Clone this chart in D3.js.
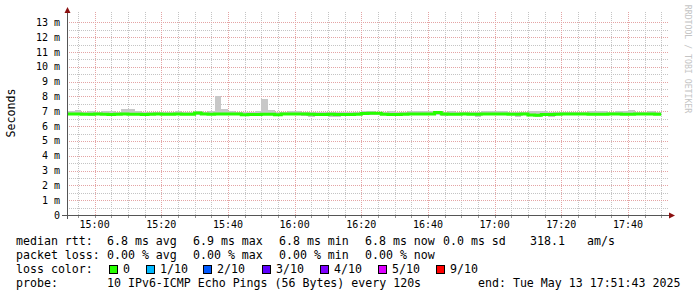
<!DOCTYPE html>
<html lang="en">
<head>
<meta charset="UTF-8">
<title>SmokePing median rtt</title>
<style>
  body { margin: 0; background: #fff; }
  svg { display: block; font-family: "DejaVu Sans Mono", monospace; }
</style>
</head>
<body>
<script src="https://d3js.org/d3.v7.min.js"></script>
<script>
const width = 697, height = 297;
const plot = {left: 67, right: 667, top: 15, bottom: 215};

// time window of the graph and the 120s bins (bin i ends at firstBinEnd + i*2min)
const graphStart = new Date(2025, 4, 13, 14, 51, 43);
const graphEnd = new Date(2025, 4, 13, 17, 51, 43);
const firstBinEnd = new Date(2025, 4, 13, 14, 52, 0);

// median rtt in ms, one per bin
const median = [
  6.81,
  6.81, 6.81, 6.80, 6.80, 6.81, 6.80, 6.78, 6.80, 6.81, 6.80,
  6.80, 6.79, 6.80, 6.81, 6.80, 6.80, 6.81, 6.80, 6.80, 6.88,
  6.81, 6.80, 6.81, 6.82, 6.82, 6.81, 6.77, 6.79, 6.79, 6.80,
  6.80, 6.77, 6.81, 6.82, 6.82, 6.81, 6.80, 6.79, 6.79, 6.80,
  6.79, 6.79, 6.79, 6.80, 6.85, 6.86, 6.86, 6.80, 6.79, 6.79,
  6.80, 6.81, 6.82, 6.82, 6.81, 6.92, 6.81, 6.80, 6.80, 6.81,
  6.80, 6.80, 6.81, 6.81, 6.81, 6.81, 6.80, 6.80, 6.81, 6.75,
  6.74, 6.78, 6.79, 6.80, 6.81, 6.81, 6.81, 6.81, 6.80, 6.80,
  6.80, 6.81, 6.81, 6.80, 6.80, 6.81, 6.81, 6.81, 6.80
];
// highest ping of each bin (smoke top)
const rttMax = [
  7.02,
  7.02, 7.08, 6.98, 7.02, 6.95, 7.00, 7.00, 6.95, 7.15, 7.15,
  7.00, 6.95, 6.98, 6.95, 6.98, 6.95, 7.00, 6.95, 6.98, 7.00,
  6.98, 7.00, 8.05, 7.15, 7.02, 6.98, 6.95, 6.98, 7.02, 7.82,
  7.08, 6.98, 6.95, 7.02, 7.02, 6.98, 6.95, 6.98, 6.95, 6.98,
  6.95, 6.95, 6.95, 6.98, 7.02, 7.02, 6.98, 6.95, 7.00, 6.98,
  6.95, 7.00, 7.02, 7.00, 7.02, 7.02, 6.98, 7.00, 6.98, 6.95,
  6.95, 6.98, 7.00, 7.00, 7.00, 7.00, 6.95, 6.98, 6.98, 7.02,
  7.02, 7.02, 6.98, 6.95, 6.98, 6.95, 6.98, 6.95, 7.00, 7.02,
  7.00, 6.98, 7.02, 7.02, 7.08, 6.98, 6.95, 7.00, 6.98
];
// lowest ping of each bin (smoke bottom)
const rttMin = [
  6.72,
  6.72, 6.72, 6.73, 6.70, 6.72, 6.72, 6.70, 6.72, 6.72, 6.72,
  6.73, 6.70, 6.72, 6.72, 6.73, 6.72, 6.72, 6.73, 6.72, 6.74,
  6.72, 6.72, 6.72, 6.72, 6.73, 6.72, 6.65, 6.70, 6.72, 6.72,
  6.72, 6.66, 6.72, 6.73, 6.72, 6.70, 6.60, 6.72, 6.72, 6.62,
  6.62, 6.72, 6.72, 6.72, 6.74, 6.74, 6.74, 6.72, 6.70, 6.66,
  6.72, 6.72, 6.73, 6.72, 6.72, 6.74, 6.65, 6.72, 6.72, 6.72,
  6.72, 6.64, 6.72, 6.72, 6.73, 6.72, 6.72, 6.60, 6.72, 6.66,
  6.60, 6.68, 6.60, 6.72, 6.72, 6.72, 6.73, 6.72, 6.72, 6.72,
  6.72, 6.72, 6.73, 6.72, 6.72, 6.72, 6.72, 6.73, 6.72
];

const yTicks = [1, 2, 3, 4, 5, 6, 7, 8, 9, 10, 11, 12, 13];
const yMax = 13.5;

const lossLabels = ["0", "1/10", "2/10", "3/10", "4/10", "5/10", "9/10"];
const lossColors = ["#26ff00", "#00b8ff", "#0059ff", "#5e00ff", "#7e00ff", "#dd00ff", "#ff0000"];

const rttStats = ["6.8 ms avg", "6.9 ms max", "6.8 ms min", "6.8 ms now", "0.0 ms sd", "318.1", "am/s"];
const lossStats = ["0.00 % avg", "0.00 % max", "0.00 % min", "0.00 % now"];
const probeText = "10 IPv6-ICMP Echo Pings (56 Bytes) every 120s";
const endText = "end: Tue May 13 17:51:43 2025";

const x = d3.scaleTime().domain([graphStart, graphEnd]).range([plot.left, plot.right]);
const y = d3.scaleLinear().domain([0, yMax]).range([plot.bottom, plot.top]);

const bins = median.map((m, i) => {
    const end = d3.timeMinute.offset(firstBinEnd, 2 * i);
    const start = d3.timeMinute.offset(end, -2);
    return {start: start < graphStart ? graphStart : start, end, m, lo: rttMin[i], hi: rttMax[i]};
});

const svg = d3.select("body")
    .append("svg")
    .attr("width", width)
    .attr("height", height)
    .attr("viewBox", [0, 0, width, height]);

svg.append("rect").attr("width", width).attr("height", height).attr("fill", "#fff");

// grid
const grid = svg.append("g").attr("shape-rendering", "crispEdges").attr("stroke-dasharray", "1,1");
const halfSteps = d3.range(1, 27).map(d => d / 2);
grid.selectAll(".hmin").data(halfSteps.filter(v => v % 1 !== 0)).join("line")
    .attr("x1", plot.left).attr("x2", plot.right + 2)
    .attr("y1", d => Math.round(y(d)) + 0.5).attr("y2", d => Math.round(y(d)) + 0.5)
    .attr("stroke", "#c4c4c4");
grid.selectAll(".vmin").data(d3.timeMinute.every(5).range(graphStart, graphEnd).filter(t => t.getMinutes() % 20 !== 0)).join("line")
    .attr("x1", d => Math.round(x(d)) + 0.5).attr("x2", d => Math.round(x(d)) + 0.5)
    .attr("y1", plot.top - 3).attr("y2", plot.bottom)
    .attr("stroke", "#c4c4c4");
grid.selectAll(".hmaj").data(yTicks).join("line")
    .attr("x1", plot.left).attr("x2", plot.right + 2)
    .attr("y1", d => Math.round(y(d)) + 0.5).attr("y2", d => Math.round(y(d)) + 0.5)
    .attr("stroke", "#e4a4a4");
const majorTimes = d3.timeMinute.every(20).range(graphStart, graphEnd);
grid.selectAll(".vmaj").data(majorTimes).join("line")
    .attr("x1", d => Math.round(x(d)) + 0.5).attr("x2", d => Math.round(x(d)) + 0.5)
    .attr("y1", plot.top - 3).attr("y2", plot.bottom)
    .attr("stroke", "#e4a4a4");

// smoke
svg.append("g").attr("shape-rendering", "crispEdges")
    .selectAll("rect").data(bins).join("rect")
    .attr("x", d => x(d.start)).attr("width", d => x(d.end) - x(d.start))
    .attr("y", d => y(d.hi)).attr("height", d => y(d.lo) - y(d.hi))
    .attr("fill", "#c8c8c8");

// median line (step shaped)
const pts = [];
bins.forEach(b => { pts.push([x(b.start), y(b.m)]); pts.push([x(b.end), y(b.m)]); });
svg.append("path")
    .attr("d", d3.line()(pts))
    .attr("fill", "none")
    .attr("stroke", lossColors[0])
    .attr("stroke-width", 3);

// axes
const axis = svg.append("g").attr("shape-rendering", "crispEdges");
axis.append("line").attr("x1", plot.left + 0.5).attr("x2", plot.left + 0.5)
    .attr("y1", plot.bottom + 4).attr("y2", 12).attr("stroke", "#555");
axis.append("line").attr("x1", plot.left - 5).attr("x2", plot.right + 3)
    .attr("y1", plot.bottom + 0.5).attr("y2", plot.bottom + 0.5).attr("stroke", "#555");
axis.selectAll(".xt").data(d3.timeMinute.every(5).range(graphStart, graphEnd)).join("line")
    .attr("x1", d => Math.round(x(d)) + 0.5).attr("x2", d => Math.round(x(d)) + 0.5)
    .attr("y1", plot.bottom + 1).attr("y2", plot.bottom + 3)
    .attr("stroke", "#999");
svg.append("path").attr("d", `M${plot.left + 0.5},7 L${plot.left - 2.5},13 L${plot.left + 3.5},13 Z`).attr("fill", "#8b1010");
svg.append("path").attr("d", `M${plot.right + 8},${plot.bottom + 0.5} L${plot.right + 2},${plot.bottom - 2.5} L${plot.right + 2},${plot.bottom + 3.5} Z`).attr("fill", "#8b1010");

// tick labels
svg.append("g").attr("font-size", 10).attr("text-anchor", "end").attr("fill", "#000")
    .selectAll("text").data([0].concat(yTicks)).join("text")
    .attr("x", 60).attr("y", d => y(d) + 3.5)
    .text(d => d === 0 ? "0" : `${d} m`);
svg.append("g").attr("font-size", 10).attr("text-anchor", "middle").attr("fill", "#000")
    .selectAll("text").data(majorTimes).join("text")
    .attr("x", d => x(d)).attr("y", 228)
    .text(d3.timeFormat("%H:%M"));

// axis title and watermark
svg.append("text").attr("transform", "translate(15,113) rotate(-90)")
    .attr("text-anchor", "middle").attr("font-size", 11.6).text("Seconds");
svg.append("text").attr("transform", "translate(685,59) rotate(90)")
    .attr("text-anchor", "middle").attr("font-size", 8.2).attr("fill", "#c4c4c4")
    .text("RRDTOOL / TOBI OETIKER");

// legend
const legend = svg.append("g").attr("font-size", 11.6).attr("fill", "#000").attr("xml:space", "preserve");
const colX = [107, 193, 279, 365, 443, 530, 587];
legend.append("text").attr("x", 16).attr("y", 245).text("median rtt:");
legend.selectAll(".r1").data(rttStats).join("text")
    .attr("x", (d, i) => colX[i]).attr("y", 245).text(d => d);
legend.append("text").attr("x", 16).attr("y", 259).text("packet loss:");
legend.selectAll(".r2").data(lossStats).join("text")
    .attr("x", (d, i) => colX[i]).attr("y", 259).text(d => d);
legend.append("text").attr("x", 16).attr("y", 273).text("loss color:");
const boxX = [109, 146, 203, 262, 320, 378, 436];
lossLabels.forEach((l, i) => {
    legend.append("rect").attr("x", boxX[i] + 0.5).attr("y", 265.5).attr("width", 8).attr("height", 8)
        .attr("fill", lossColors[i]).attr("stroke", "#000").attr("stroke-width", 1);
    legend.append("text").attr("x", boxX[i] + 14).attr("y", 273).text(l);
});
legend.append("text").attr("x", 16).attr("y", 287).text("probe:");
legend.append("text").attr("x", 107).attr("y", 287).text(probeText);
legend.append("text").attr("x", 478).attr("y", 287).text(endText);
</script>
</body>
</html>
